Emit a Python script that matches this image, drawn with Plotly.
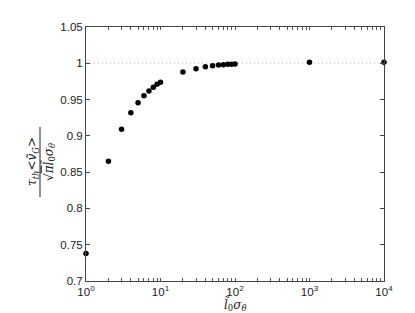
import plotly.graph_objects as go

# data
l0_sigma = [1, 2, 3, 4, 5, 6, 7, 8, 9, 10,
            20, 30, 40, 50, 60, 70, 80, 90, 100,
            1000, 10000]
ratio = [0.738, 0.865, 0.909, 0.932, 0.9457, 0.9554, 0.9618, 0.967, 0.971, 0.9738,
         0.988, 0.9926, 0.9953, 0.9967, 0.9975, 0.998, 0.9985, 0.9988, 0.999,
         1.0015, 1.0015]
reference_level = 1.0

decade_labels = {1: "10<sup>0</sup>", 10: "10<sup>1</sup>", 100: "10<sup>2</sup>",
                 1000: "10<sup>3</sup>", 10000: "10<sup>4</sup>"}
x_tickvals = [m * 10 ** d for d in range(4) for m in range(1, 10)] + [10000]
x_ticktext = [decade_labels.get(v, "") for v in x_tickvals]
y_tickvals = [0.7, 0.75, 0.8, 0.85, 0.9, 0.95, 1.0, 1.05]
y_ticktext = ["0.7", "0.75", "0.8", "0.85", "0.9", "0.95", "1", "1.05"]

fig = go.Figure()
fig.add_trace(go.Scatter(
    x=[1, 10000], y=[reference_level, reference_level], mode="lines",
    line=dict(color="#b8b8b8", width=1, dash="1px,3px"), hoverinfo="skip", showlegend=False))
fig.add_trace(go.Scatter(
    x=l0_sigma, y=ratio, mode="markers",
    marker=dict(color="black", size=5.5), showlegend=False, cliponaxis=False))

font = dict(family="Liberation Sans, Arial, sans-serif", size=11.5, color="#222")
serif = dict(family="DejaVu Serif, serif", size=12, color="#222")
fig.update_layout(
    width=415, height=313,
    margin=dict(l=78, r=39, t=19, b=40),
    plot_bgcolor="white", paper_bgcolor="white",
    font=font,
    xaxis=dict(
        type="log", range=[0, 4],
        tickvals=x_tickvals, ticktext=x_ticktext,
        ticks="inside", ticklen=3, tickcolor="#555", tickwidth=1,
        showline=True, linecolor="#444", linewidth=1, mirror="ticks",
        showgrid=False, zeroline=False,
        tickfont=font,
    ),
    yaxis=dict(
        range=[0.7, 1.05],
        tickvals=y_tickvals, ticktext=y_ticktext,
        ticks="inside", ticklen=4, tickcolor="#444", tickwidth=1,
        showline=True, linecolor="#444", linewidth=1, mirror="ticks",
        showgrid=False, zeroline=False,
        tickfont=font,
    ),
)

# x-axis label
fig.add_annotation(
    xref="paper", yref="paper", x=0.5, y=(273 - 296) / 254,
    xanchor="center", yanchor="middle",
    text="<i>l̃</i><sub>0</sub><i>σ</i><sub><i>θ</i></sub>",
    showarrow=False, font=serif,
)

# y-axis label drawn as a rotated fraction
fig.add_annotation(
    xref="paper", yref="paper", x=(25 - 78) / 298, y=(273 - 154) / 254,
    xanchor="center", yanchor="middle",
    text="<i>τ</i><sub><i>th</i></sub><i>&lt;ṽ</i><sub><i>G</i></sub><i>&gt;</i>",
    textangle=-90, showarrow=False, font=serif,
)
fig.add_shape(
    type="line", xref="paper", yref="paper",
    x0=(32 - 78) / 298, x1=(32 - 78) / 298,
    y0=(273 - 119) / 254, y1=(273 - 189) / 254,
    line=dict(color="#222", width=1),
)
fig.add_annotation(
    xref="paper", yref="paper", x=(40 - 78) / 298, y=(273 - 154) / 254,
    xanchor="center", yanchor="middle",
    text="√<span style='text-decoration:overline'><i>π</i></span><i>l̃</i><sub>0</sub><i>σ</i><sub><i>θ</i></sub>",
    textangle=-90, showarrow=False, font=serif,
)

fig.write_html("out.html")
